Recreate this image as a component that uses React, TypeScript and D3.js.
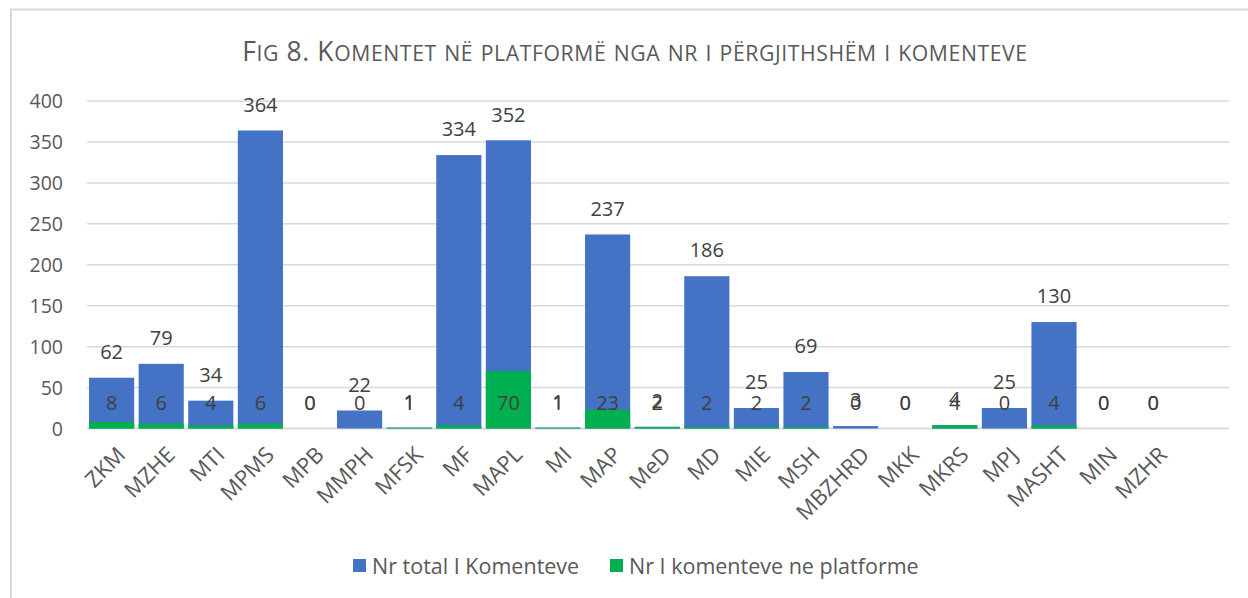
import React from "react";
import * as d3 from "d3";

const categories = ["ZKM","MZHE","MTI","MPMS","MPB","MMPH","MFSK","MF","MAPL","MI","MAP","MeD","MD","MIE","MSH","MBZHRD","MKK","MKRS","MPJ","MASHT","MIN","MZHR"];
const totalComments = [62,79,34,364,0,22,1,334,352,1,237,2,186,25,69,3,0,4,25,130,0,0];
const platformComments = [8,6,4,6,0,0,1,4,70,1,23,2,2,2,2,0,0,4,0,4,0,0];
const yTicks = [0,50,100,150,200,250,300,350,400];
const seriesNames = ["Nr total I Komenteve", "Nr I komenteve ne platforme"];
const seriesColors = ["#4472C4", "#00B050"];
const title = "Fig 8. Komentet në platformë nga nr i përgjithshëm i komenteve";

const FONT = "'Open Sans', Lato, sans-serif";

function smallCaps(text: string, big: number, ratio: number) {
  const runs: { t: string; s: number }[] = [];
  for (const ch of text) {
    const isLower = ch !== ch.toUpperCase();
    const s = isLower ? big * ratio : big;
    const t = isLower ? ch.toUpperCase() : ch;
    if (runs.length && runs[runs.length - 1].s === s) runs[runs.length - 1].t += t;
    else runs.push({ t, s });
  }
  return runs;
}

export default function App() {
  const W = 1248, H = 598;
  const x = d3.scaleBand<string>().domain(categories).range([86.8, 1178]).paddingInner(0.09).paddingOuter(0.045);
  const y = d3.scaleLinear().domain([0, 400]).range([428.5, 101]);
  const gridX0 = 87, gridX1 = 1229;
  const bw = x.bandwidth();
  const runs = smallCaps(title, 26.5, 0.8);

  return (
    <svg width={W} height={H} style={{ position: "fixed", left: 0, top: 0, background: "#fff" }} fontFamily={FONT}>
      <rect x={0} y={0} width={W} height={H} fill="#fff" />
      <path d={`M11,${H + 5}V9.5H${W + 5}`} fill="none" stroke="#d9d9d9" strokeWidth={2} />
      <text x={635} y={61} textAnchor="middle" fill="#595959" fontWeight={400} letterSpacing={0.6}>
        {runs.map((r, i) => (
          <tspan key={i} fontSize={r.s}>{r.t}</tspan>
        ))}
      </text>
      {yTicks.map((t) => (
        <g key={t}>
          <line x1={gridX0} x2={gridX1} y1={y(t)} y2={y(t)} stroke="#d9d9d9" strokeWidth={t === 0 ? 1.8 : 1.5} />
          <text x={63} y={y(t)} dy="0.36em" textAnchor="end" fontSize={19.5} fill="#595959">{t}</text>
        </g>
      ))}
      {categories.map((c, i) => (
        <g key={c}>
          <rect x={x(c)!} y={y(totalComments[i])} width={bw} height={y(0) - y(totalComments[i])} fill={seriesColors[0]} />
          <rect x={x(c)!} y={y(platformComments[i])} width={bw} height={y(0) - y(platformComments[i])} fill={seriesColors[1]} />
        </g>
      ))}
      {categories.map((c, i) => {
        const cx = x(c)! + bw / 2;
        return (
          <g key={c + "l"}>
            <text x={cx} y={y(totalComments[i]) - 26} dy="0.36em" textAnchor="middle" fontSize={20} fill="#404040">{totalComments[i]}</text>
            <text x={cx} y={y(0) - 26} dy="0.36em" textAnchor="middle" fontSize={20} fill="#404040">{platformComments[i]}</text>
          </g>
        );
      })}
      {categories.map((c) => {
        const cx = x(c)! + bw / 2;
        return (
          <text key={c + "x"} transform={`translate(${cx + 4},${445}) rotate(-45)`} dy="0.72em" textAnchor="end" fontSize={22} fill="#595959">{c}</text>
        );
      })}
      <g>
        <rect x={353} y={559} width={13} height={13} fill={seriesColors[0]} />
        <text x={372} y={566} dy="0.36em" fontSize={21.5} fill="#595959">{seriesNames[0]}</text>
        <rect x={610} y={559} width={13} height={13} fill={seriesColors[1]} />
        <text x={629} y={566} dy="0.36em" fontSize={21.5} fill="#595959">{seriesNames[1]}</text>
      </g>
    </svg>
  );
}
